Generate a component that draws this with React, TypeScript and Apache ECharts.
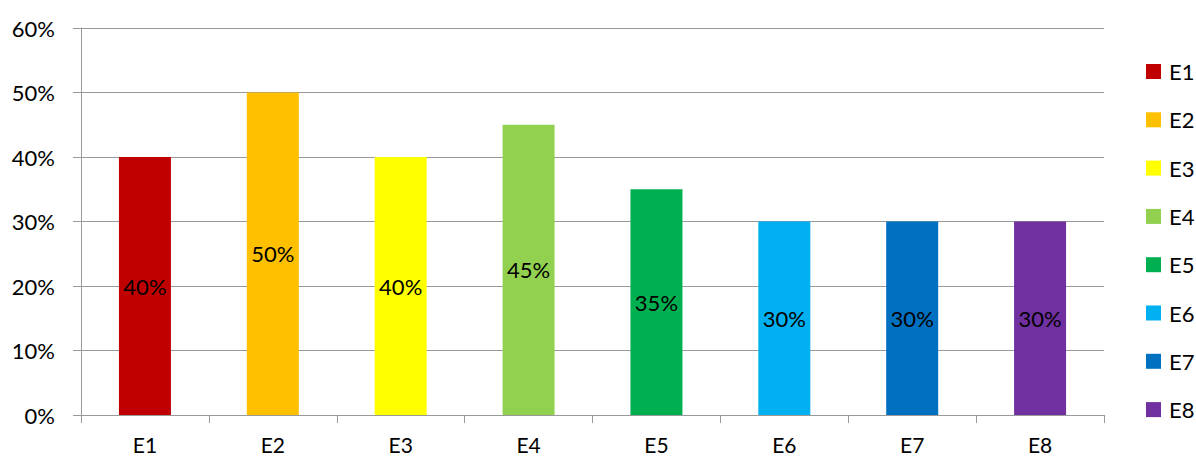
import React, { useEffect, useRef } from "react";
import * as echarts from "echarts";

const categories = ["E1", "E2", "E3", "E4", "E5", "E6", "E7", "E8"];
const values = [40, 50, 40, 45, 35, 30, 30, 30];
const colors = ["#C00000", "#FFC000", "#FFFF00", "#92D050", "#00B050", "#00B0F0", "#0070C0", "#7030A0"];
const yTicks = { min: 0, max: 60, interval: 10 };

const FONT = "Lato";
const FS = 22;

export default function App() {
  const ref = useRef<HTMLDivElement>(null);
  useEffect(() => {
    if (!ref.current) return;
    const chart = echarts.init(ref.current, undefined, { renderer: "svg" });
    const series = categories.map((name, i) => ({
      name,
      type: "bar",
      stack: "all",
      barWidth: 52,
      itemStyle: { color: colors[i] },
      label: {
        show: true,
        position: "inside",
        color: "#000",
        fontFamily: FONT,
        fontSize: FS,
        formatter: "{c}%",
      },
      data: categories.map((_, j) => (j === i ? values[i] : null)),
    }));
    chart.setOption({
      animation: false,
      backgroundColor: "#fff",
      textStyle: { fontFamily: FONT },
      grid: { left: 81, right: 92, top: 28, bottom: 44, containLabel: false },
      legend: {
        orient: "vertical",
        left: 1146,
        top: 60.5,
        padding: 0,
        itemWidth: 15,
        itemHeight: 15,
        itemGap: 26.3,
        icon: "rect",
        data: categories,
        textStyle: { fontFamily: FONT, fontSize: FS, color: "#000", lineHeight: 22, padding: [0, 0, 0, 3] },
      },
      xAxis: {
        type: "category",
        data: categories,
        axisLine: { show: true, lineStyle: { color: "#999", width: 1 } },
        axisTick: { show: true, length: 8, alignWithLabel: false, lineStyle: { color: "#999" } },
        axisLabel: { color: "#000", fontFamily: FONT, fontSize: 21, margin: 19 },
      },
      yAxis: {
        type: "value",
        min: yTicks.min,
        max: yTicks.max,
        interval: yTicks.interval,
        axisLine: { show: true, lineStyle: { color: "#999", width: 1 } },
        axisTick: { show: true, length: 8, lineStyle: { color: "#999" } },
        axisLabel: { color: "#000", fontFamily: FONT, fontSize: FS, margin: 26, formatter: "{value}%" },
        splitLine: { show: true, lineStyle: { color: "#999", width: 1 } },
      },
      series,
    });
    return () => chart.dispose();
  }, []);
  return (
    <div
      ref={ref}
      style={{ position: "fixed", left: 0, top: 0, width: 1196, height: 459 }}
    />
  );
}
